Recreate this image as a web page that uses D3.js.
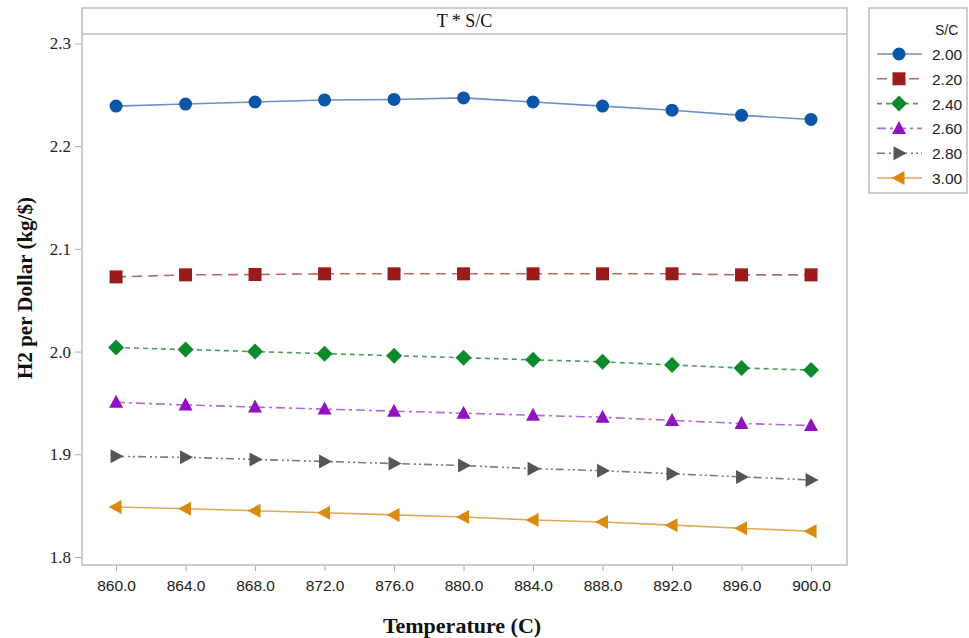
<!DOCTYPE html>
<html>
<head>
<meta charset="utf-8">
<script src="https://cdnjs.cloudflare.com/ajax/libs/d3/7.8.5/d3.min.js"></script>
<style>
  body { margin: 0; background: #fff; }
  svg { display: block; }
</style>
</head>
<body>
<script>
// chart data
const temps = [860, 864, 868, 872, 876, 880, 884, 888, 892, 896, 900];
const ratios = ['2.00', '2.20', '2.40', '2.60', '2.80', '3.00'];
const sc200 = [2.239, 2.241, 2.243, 2.245, 2.2455, 2.247, 2.243, 2.239, 2.235, 2.230, 2.226];
const sc220 = [2.0727, 2.0747, 2.075, 2.0757, 2.0757, 2.0757, 2.0757, 2.0757, 2.0757, 2.0747, 2.0747];
const sc240 = [2.0039, 2.002, 2.000, 1.998, 1.996, 1.994, 1.992, 1.990, 1.987, 1.984, 1.982];
const sc260 = [1.9506, 1.948, 1.946, 1.944, 1.942, 1.940, 1.938, 1.936, 1.933, 1.930, 1.928];
const sc280 = [1.898, 1.897, 1.895, 1.893, 1.891, 1.889, 1.886, 1.884, 1.881, 1.878, 1.875];
const sc300 = [1.8487, 1.847, 1.845, 1.843, 1.841, 1.839, 1.836, 1.834, 1.831, 1.828, 1.825];
const yTicks = [1.8, 1.9, 2.0, 2.1, 2.2, 2.3];

const seriesValues = [sc200, sc220, sc240, sc260, sc280, sc300];

// look of each series
const colors = ['#0b56a8', '#9b1b1b', '#0c8a2c', '#9212c2', '#555555', '#d98b10'];
const lineColors = ['#6d8fc4', '#b86a6a', '#4a9e5c', '#b36ad4', '#7a7a7a', '#e0a95a'];
const dashes = [null, '10,6', '5,4', '9,4,3,4', '8,4,2,3,2,3', null];
const shapes = ['circle', 'square', 'diamond', 'tri-up', 'tri-right', 'tri-left'];

const w = 969, h = 638;
const frame = { left: 82, right: 847, top: 8, stripBottom: 34, bottom: 565 };

const svg = d3.select('body').append('svg')
    .attr('width', w)
    .attr('height', h);

const xScale = d3.scaleLinear()
    .domain([858.04, 902.07])
    .range([frame.left, frame.right]);
const yScale = d3.scaleLinear()
    .domain([1.7922, 2.3092])
    .range([frame.bottom, frame.stripBottom]);

// marker path for a given shape
function markerPath(shape, x, y) {
    const p = d3.path();
    if (shape === 'circle') {
        p.arc(x, y, 6.5, 0, 2 * Math.PI);
    } else if (shape === 'square') {
        p.rect(x - 6.5, y - 6.5, 13, 13);
    } else if (shape === 'diamond') {
        p.moveTo(x, y - 8); p.lineTo(x + 8, y); p.lineTo(x, y + 8); p.lineTo(x - 8, y); p.closePath();
    } else if (shape === 'tri-up') {
        p.moveTo(x, y - 7.5); p.lineTo(x + 7, y + 5.5); p.lineTo(x - 7, y + 5.5); p.closePath();
    } else if (shape === 'tri-right') {
        p.moveTo(x + 7.5, y); p.lineTo(x - 5.5, y + 7); p.lineTo(x - 5.5, y - 7); p.closePath();
    } else {
        p.moveTo(x - 7.5, y); p.lineTo(x + 5.5, y - 7); p.lineTo(x + 5.5, y + 7); p.closePath();
    }
    return p.toString();
}

// frame and strip
svg.append('rect')
    .attr('x', frame.left).attr('y', frame.top)
    .attr('width', frame.right - frame.left)
    .attr('height', frame.bottom - frame.top)
    .attr('fill', 'none')
    .attr('stroke', '#bdbdbd')
    .attr('stroke-width', 1.5);
svg.append('line')
    .attr('x1', frame.left).attr('x2', frame.right)
    .attr('y1', frame.stripBottom).attr('y2', frame.stripBottom)
    .attr('stroke', '#bdbdbd')
    .attr('stroke-width', 1.5);
svg.append('text')
    .attr('x', (frame.left + frame.right) / 2)
    .attr('y', 27)
    .attr('text-anchor', 'middle')
    .attr('font-family', 'Liberation Serif, serif')
    .attr('font-size', 18)
    .attr('fill', '#111')
    .text('T * S/C');

// axes
const xAxis = d3.axisBottom(xScale)
    .tickValues(temps)
    .tickFormat(d3.format('.1f'))
    .tickSize(5)
    .tickPadding(9);
const yAxis = d3.axisLeft(yScale)
    .tickValues(yTicks)
    .tickFormat(d3.format('.1f'))
    .tickSize(6)
    .tickPadding(4);

const gx = svg.append('g')
    .attr('transform', `translate(0, ${frame.bottom + 1})`)
    .call(xAxis);
gx.select('.domain').remove();
gx.selectAll('line').attr('stroke', '#a8a8a8');
gx.selectAll('text')
    .attr('font-family', 'Liberation Sans, Arial, sans-serif')
    .attr('font-size', 15.5)
    .attr('fill', '#222');

const gy = svg.append('g')
    .attr('transform', `translate(${frame.left - 1}, 0)`)
    .call(yAxis);
gy.select('.domain').remove();
gy.selectAll('line').attr('stroke', '#a8a8a8');
gy.selectAll('text')
    .attr('font-family', 'Liberation Serif, serif')
    .attr('font-size', 17)
    .attr('fill', '#222');

// axis titles
svg.append('text')
    .attr('x', 462).attr('y', 633)
    .attr('text-anchor', 'middle')
    .attr('font-family', 'Liberation Serif, serif')
    .attr('font-weight', 'bold')
    .attr('font-size', 22)
    .attr('fill', '#111')
    .text('Temperature (C)');
svg.append('text')
    .attr('transform', 'translate(32, 288) rotate(-90)')
    .attr('text-anchor', 'middle')
    .attr('font-family', 'Liberation Serif, serif')
    .attr('font-weight', 'bold')
    .attr('font-size', 21)
    .attr('fill', '#111')
    .text('H2 per Dollar (kg/$)');

// series lines and markers
const line = d3.line()
    .x((d, i) => xScale(temps[i]))
    .y(d => yScale(d));

seriesValues.forEach((vals, s) => {
    svg.append('path')
        .datum(vals)
        .attr('d', line)
        .attr('fill', 'none')
        .attr('stroke', lineColors[s])
        .attr('stroke-width', 1.6)
        .attr('stroke-dasharray', dashes[s]);
    svg.append('g').selectAll('path')
        .data(vals)
        .join('path')
        .attr('d', (d, i) => markerPath(shapes[s], xScale(temps[i]), yScale(d)))
        .attr('fill', colors[s]);
});

// legend
const lg = svg.append('g');
lg.append('rect')
    .attr('x', 869).attr('y', 8)
    .attr('width', 98).attr('height', 185)
    .attr('fill', '#fff')
    .attr('stroke', '#bdbdbd')
    .attr('stroke-width', 1.5);
lg.append('text')
    .attr('x', 935).attr('y', 35)
    .attr('font-family', 'Liberation Sans, Arial, sans-serif')
    .attr('font-size', 14)
    .attr('fill', '#222')
    .text('S/C');
ratios.forEach((r, s) => {
    const y = 54 + s * 24.8;
    lg.append('line')
        .attr('x1', 877).attr('x2', 922)
        .attr('y1', y).attr('y2', y)
        .attr('stroke', lineColors[s])
        .attr('stroke-width', 1.6)
        .attr('stroke-dasharray', dashes[s]);
    lg.append('path')
        .attr('d', markerPath(shapes[s], 899, y))
        .attr('fill', colors[s]);
    lg.append('text')
        .attr('x', 932).attr('y', y + 6)
        .attr('font-family', 'Liberation Sans, Arial, sans-serif')
        .attr('font-size', 15.5)
        .attr('fill', '#222')
        .text(r);
});
</script>
</body>
</html>
